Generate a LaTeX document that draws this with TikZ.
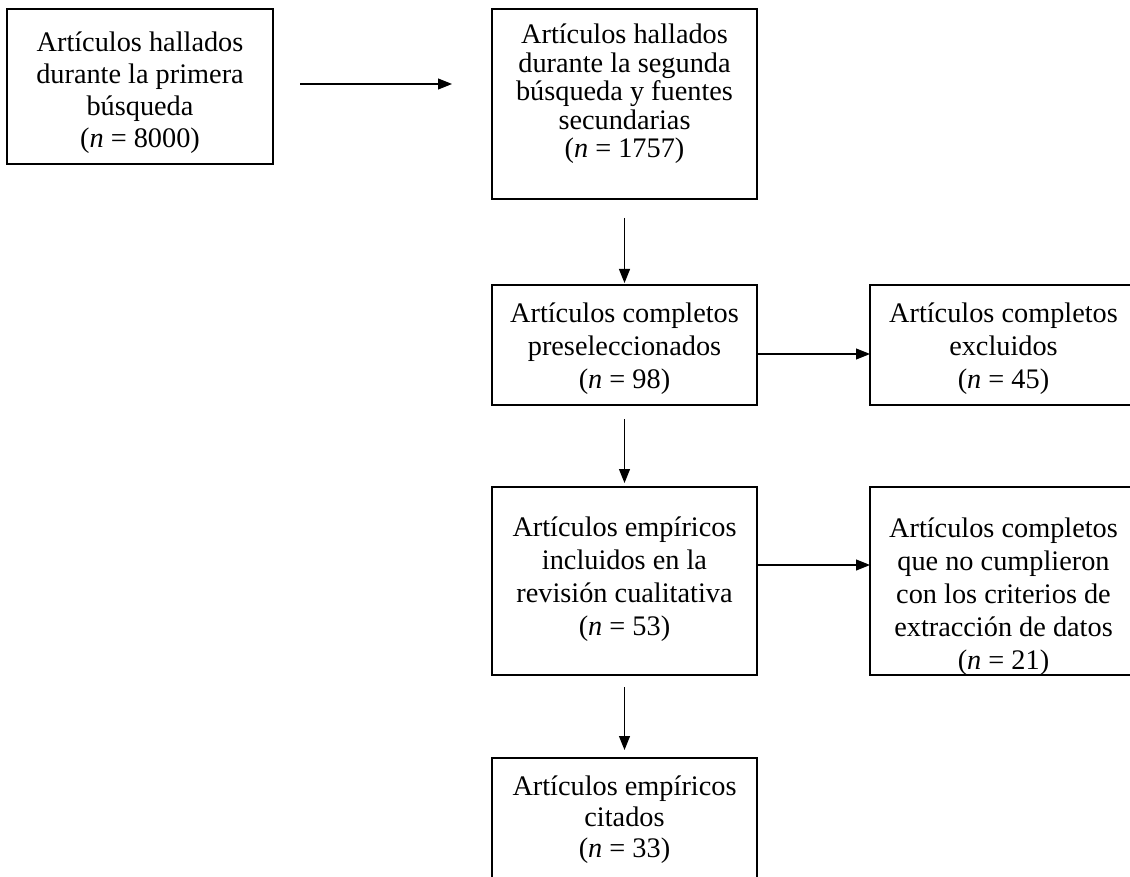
\documentclass[tikz,border=0pt]{standalone}
\usepackage{fontspec}
\setmainfont{Liberation Serif}
\usetikzlibrary{arrows.meta,calc}
\begin{document}
\begin{tikzpicture}[x=1pt,y=-1pt,
  box/.style={draw, line width=2.2pt, inner sep=0pt, outer sep=0pt, minimum width=265pt},
  txt/.style={align=center, inner sep=0pt, font=\fontsize{28.3}{33}\selectfont},
  arr/.style={line width=1.1pt, -{Triangle[length=14pt,width=11pt]}}]
\useasboundingbox (0,0) rectangle (1130,877);
\clip (0,0) rectangle (1130,877);
% boxes
\node[box, minimum width=266pt, minimum height=155pt] (a) at (140,86.5) {};
\node[box, minimum height=190pt] (b) at (624.5,104) {};
\node[box, minimum height=120pt] (c) at (624.5,345) {};
\node[box, minimum width=267pt, minimum height=120pt] (d) at (1003.5,345) {};
\node[box, minimum height=188pt] (e) at (624.5,581) {};
\node[box, minimum width=267pt, minimum height=188pt] (f) at (1003.5,581) {};
\node[box, minimum height=188pt] (g) at (624.5,852) {};
% texts
\node[txt, font=\fontsize{28.3}{32}\selectfont] (ta) at (140,92.5) {Artículos hallados\\durante la primera\\búsqueda\\(\textit{n} = 8000)};
\node[txt, font=\fontsize{28.3}{28.5}\selectfont] (tb) at (624.5,94) {Artículos hallados\\durante la segunda\\búsqueda y fuentes\\secundarias\\(\textit{n} = 1757)};
\node[txt] (tc) at (624.5,349) {Artículos completos\\preseleccionados\\(\textit{n} = 98)};
\node[txt] (td) at (1003.5,349) {Artículos completos\\excluidos\\(\textit{n} = 45)};
\node[txt] (te) at (624.5,579.5) {Artículos empíricos\\incluidos en la\\revisión cualitativa\\(\textit{n} = 53)};
\node[txt] (tf) at (1003.5,596.5) {Artículos completos\\que no cumplieron\\con los criterios de\\extracción de datos\\(\textit{n} = 21)};
\node[txt, font=\fontsize{28.3}{31}\selectfont] (tg) at (624.5,820) {Artículos empíricos\\citados\\(\textit{n} = 33)};
% connectors
\draw[arr, shorten <=27pt, shorten >=40pt] ([yshift=2.5pt]a.east) -- ([yshift=2.5pt]a.east -| b.west);
\draw[arr, shorten <=19pt, shorten >=2pt] (b.south) -- (c.north);
\draw[arr, shorten <=14pt, shorten >=4pt] (c.south) -- (e.north);
\draw[arr, shorten <=12pt, shorten >=8pt] (e.south) -- (g.north);
\draw[arr] ([yshift=-9pt]c.east) -- ([yshift=-9pt]c.east -| d.west);
\draw[arr] ([yshift=16pt]e.east) -- ([yshift=16pt]e.east -| f.west);
\end{tikzpicture}
\end{document}
